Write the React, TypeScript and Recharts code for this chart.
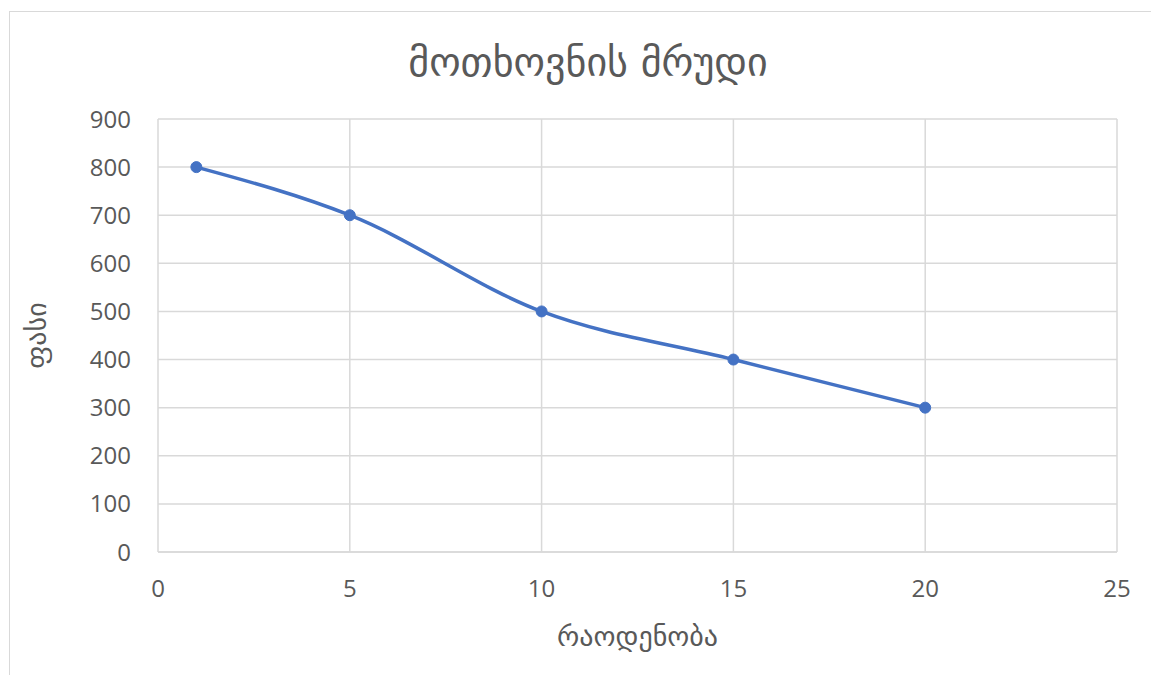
import React from 'react';
import {
  LineChart,
  Line,
  XAxis,
  YAxis,
  CartesianGrid,
  Label,
} from 'recharts';

const quantities = [1, 5, 10, 15, 20];
const prices = [800, 700, 500, 400, 300];
const xTicks = [0, 5, 10, 15, 20, 25];
const yTicks = [0, 100, 200, 300, 400, 500, 600, 700, 800, 900];

const TITLE = 'მოთხოვნის მრუდი';
const X_LABEL = 'რაოდენობა';
const Y_LABEL = 'ფასი';

const data = quantities.map((q, i) => ({ q, price: prices[i] }));

const FONT = '"Open Sans", "DejaVu Sans", sans-serif';
const GEO_FONT = '"DejaVu Sans", sans-serif';
const TEXT = '#595959';

export default function App() {
  return (
    <div
      style={{
        position: 'fixed',
        left: 0,
        top: 0,
        width: 1151,
        height: 675,
        overflow: 'hidden',
        background: '#fff',
        fontFamily: FONT,
      }}
    >
      <div
        style={{
          position: 'absolute',
          left: 9,
          top: 11,
          width: 1170,
          height: 690,
          border: '1.5px solid #d9d9d9',
        }}
      />
      <div
        style={{
          position: 'absolute',
          left: 0,
          top: 38,
          width: 1176,
          textAlign: 'center',
          fontSize: 40,
          color: TEXT,
          fontFamily: GEO_FONT,
          lineHeight: '48px',
        }}
      >
        {TITLE}
      </div>
      <div style={{ position: 'absolute', left: 0, top: 0 }}>
        <LineChart
          width={1151}
          height={675}
          data={data}
          margin={{ top: 119, right: 34, bottom: 73, left: 98 }}
        >
          <CartesianGrid stroke="#d9d9d9" strokeWidth={1.5} />
          <XAxis
            type="number"
            dataKey="q"
            domain={[0, 25]}
            ticks={xTicks}
            height={50}
            axisLine={{ stroke: '#d9d9d9', strokeWidth: 1.5 }}
            tickLine={false}
            tickMargin={22}
            tick={{ fill: TEXT, fontSize: 24, fontFamily: FONT }}
          >
            <Label
              value={X_LABEL}
              position="insideBottom"
              offset={-44}
              style={{ fill: TEXT, fontSize: 28, fontFamily: GEO_FONT }}
            />
          </XAxis>
          <YAxis
            type="number"
            domain={[0, 900]}
            ticks={yTicks}
            width={60}
            axisLine={false}
            tickLine={false}
            tickMargin={21}
            tick={{ fill: TEXT, fontSize: 24, fontFamily: FONT }}
          >
            <Label
              value={Y_LABEL}
              angle={-90}
              position="insideLeft"
              offset={-62}
              style={{ fill: TEXT, fontSize: 28, fontFamily: GEO_FONT, textAnchor: 'middle' }}
            />
          </YAxis>
          <Line
            type="monotone"
            dataKey="price"
            stroke="#4472c4"
            strokeWidth={3.5}
            dot={{ r: 5.5, fill: '#4472c4', stroke: '#4472c4', strokeWidth: 1 }}
            isAnimationActive={false}
          />
        </LineChart>
      </div>
    </div>
  );
}
